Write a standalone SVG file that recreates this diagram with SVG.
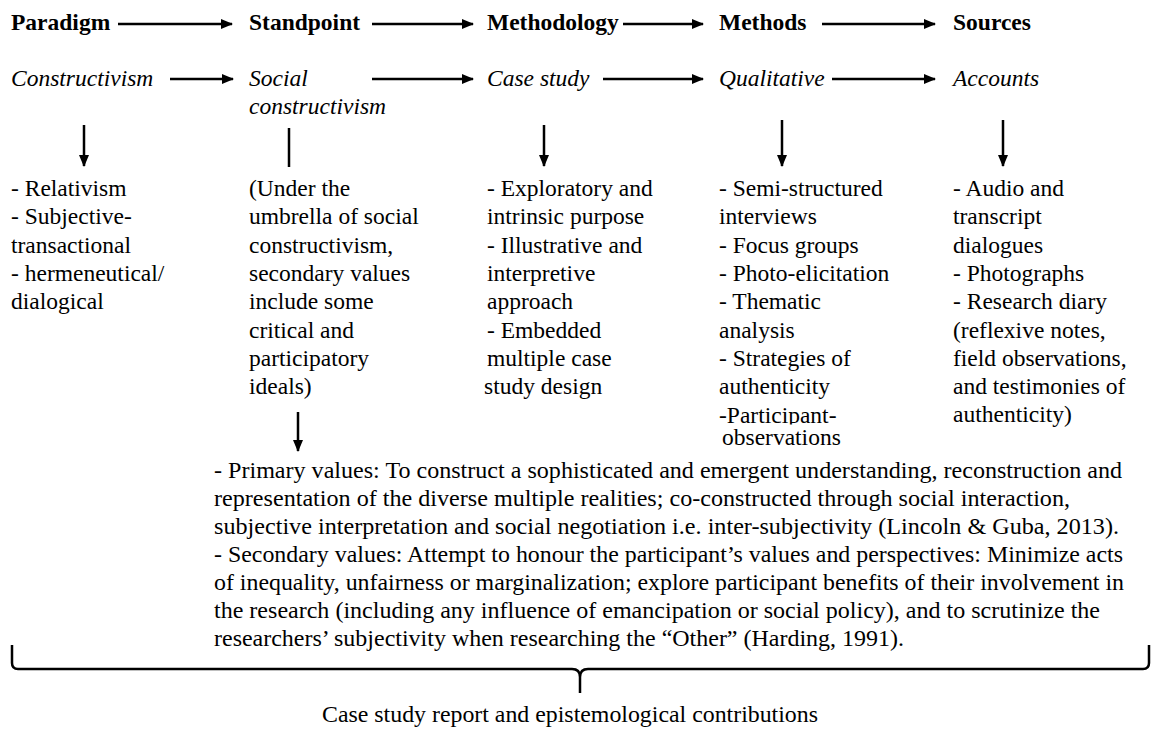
<svg xmlns="http://www.w3.org/2000/svg" width="1155" height="729" viewBox="0 0 1155 729">
<defs>
<marker id="ah" markerWidth="12" markerHeight="10" refX="11" refY="5" orient="auto" markerUnits="userSpaceOnUse"><path d="M0,0 L12,5 L0,10 Z" fill="#000"/></marker>
<clipPath id="clipA"><rect x="700" y="400" width="200" height="24.5"/></clipPath>
<clipPath id="clipB"><rect x="700" y="425" width="200" height="22.5"/></clipPath>
</defs>
<rect width="1155" height="729" fill="#fff"/>
<g font-family="Liberation Serif" font-size="23.5" fill="#000">
<g id="n-paradigm"><text font-weight="bold" x="11" y="30">Paradigm</text><text font-style="italic" x="11" y="86">Constructivism</text></g>
<g id="n-standpoint"><text font-weight="bold" x="249" y="30">Standpoint</text><text font-style="italic" x="249" y="86">Social</text><text font-style="italic" x="249" y="114">constructivism</text></g>
<g id="n-methodology"><text font-weight="bold" x="487" y="30">Methodology</text><text font-style="italic" x="487" y="86">Case study</text></g>
<g id="n-methods"><text font-weight="bold" x="719" y="30">Methods</text><text font-style="italic" x="719" y="86">Qualitative</text></g>
<g id="n-sources"><text font-weight="bold" x="953" y="30">Sources</text><text font-style="italic" x="953" y="86">Accounts</text></g>
<g id="n-col1"><text x="11" y="196">- Relativism</text><text x="11" y="224">- Subjective-</text><text x="11" y="253">transactional</text><text x="11" y="281">- hermeneutical/</text><text x="11" y="309">dialogical</text></g>
<g id="n-col2"><text x="249" y="196">(Under the</text><text x="249" y="224">umbrella  of social</text><text x="249" y="253">constructivism,</text><text x="249" y="281">secondary values</text><text x="249" y="309">include some</text><text x="249" y="338">critical  and</text><text x="249" y="366">participatory</text><text x="249" y="394">ideals)</text></g>
<g id="n-col3"><text x="487" y="196">- Exploratory and</text><text x="487" y="224">intrinsic purpose</text><text x="487" y="253">- Illustrative and</text><text x="487" y="281">interpretive</text><text x="487" y="309">approach</text><text x="487" y="338">- Embedded</text><text x="487" y="366">multiple case</text><text x="484" y="394">study design</text></g>
<g id="n-col4"><text x="719" y="196">- Semi-structured</text><text x="719" y="224">interviews</text><text x="719" y="253">- Focus groups</text><text x="719" y="281">- Photo-elicitation</text><text x="719" y="309">- Thematic</text><text x="719" y="338">analysis</text><text x="719" y="366">- Strategies of</text><text x="719" y="394">authenticity</text><text x="719" y="423" clip-path="url(#clipA)">-Participant-</text><text x="722" y="445" clip-path="url(#clipB)">observations</text></g>
<g id="n-col5"><text x="953" y="196">- Audio and</text><text x="953" y="224">transcript</text><text x="953" y="253">dialogues</text><text x="953" y="281">- Photographs</text><text x="953" y="309">- Research diary</text><text x="953" y="338">(reflexive notes,</text><text x="953" y="366">field observations,</text><text x="953" y="394">and testimonies of</text><text x="953" y="422">authenticity)</text></g>
<g id="n-values">
<text x="214" y="478" textLength="908" lengthAdjust="spacingAndGlyphs">- Primary values: To construct a sophisticated and emergent understanding, reconstruction and</text>
<text x="214" y="506" textLength="856" lengthAdjust="spacingAndGlyphs">representation of the diverse multiple realities; co-constructed through social interaction,</text>
<text x="214" y="534" textLength="905" lengthAdjust="spacingAndGlyphs">subjective interpretation and social negotiation i.e. inter-subjectivity (Lincoln &amp; Guba, 2013).</text>
<text x="214" y="562" textLength="909" lengthAdjust="spacingAndGlyphs">- Secondary values: Attempt to honour the participant’s values and perspectives: Minimize acts</text>
<text x="214" y="590" textLength="910" lengthAdjust="spacingAndGlyphs">of inequality, unfairness or marginalization; explore participant benefits of their involvement in</text>
<text x="214" y="618" textLength="886" lengthAdjust="spacingAndGlyphs">the research (including any influence of emancipation or social policy), and to scrutinize the</text>
<text x="214" y="646" textLength="690" lengthAdjust="spacingAndGlyphs">researchers’ subjectivity when researching the “Other” (Harding, 1991).</text>
</g>
<g id="n-result"><text x="570" y="722" text-anchor="middle" textLength="496" lengthAdjust="spacingAndGlyphs">Case study report and epistemological contributions</text></g>
</g>
<g id="connectors" stroke="#000" stroke-width="2.5" fill="none">
<line x1="118" y1="24" x2="232" y2="24" marker-end="url(#ah)"/>
<line x1="372" y1="24" x2="473" y2="24" marker-end="url(#ah)"/>
<line x1="623" y1="24" x2="703" y2="24" marker-end="url(#ah)"/>
<line x1="822" y1="24" x2="935" y2="24" marker-end="url(#ah)"/>
<line x1="170" y1="79" x2="233" y2="79" marker-end="url(#ah)"/>
<line x1="372" y1="79" x2="473" y2="79" marker-end="url(#ah)"/>
<line x1="603" y1="79" x2="703" y2="79" marker-end="url(#ah)"/>
<line x1="832" y1="79" x2="935" y2="79" marker-end="url(#ah)"/>
<line x1="84" y1="125" x2="84" y2="166" marker-end="url(#ah)"/>
<line x1="289" y1="128" x2="289" y2="167"/>
<line x1="544" y1="125" x2="544" y2="166" marker-end="url(#ah)"/>
<line x1="782" y1="120" x2="782" y2="166" marker-end="url(#ah)"/>
<line x1="1003" y1="120" x2="1003" y2="166" marker-end="url(#ah)"/>
<line x1="298" y1="412" x2="298" y2="451" marker-end="url(#ah)"/>
<path d="M12,645 L12,663 Q12,669 18,669 L572,669 Q580,669 580,677 L580,693 M580,677 Q580,669 588,669 L1143,669 Q1149,669 1149,663 L1149,645"/>
</g>
</svg>
